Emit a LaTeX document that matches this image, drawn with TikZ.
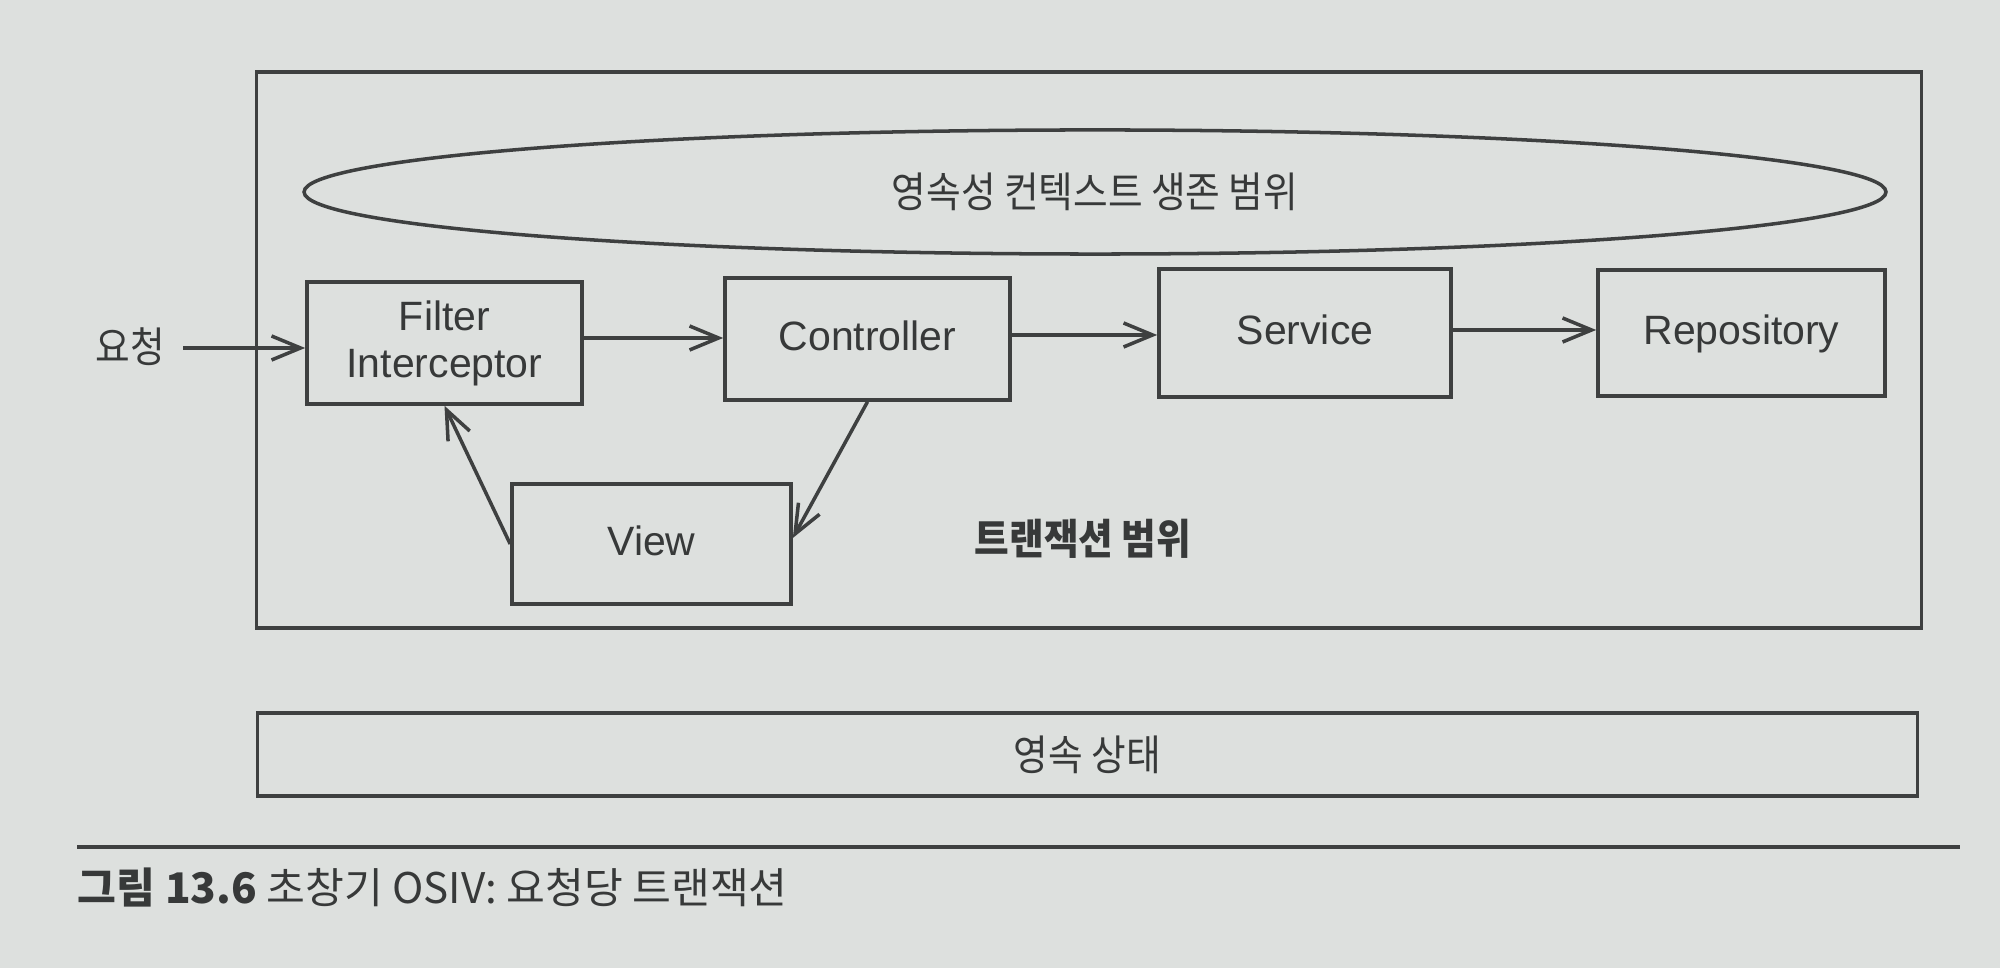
\documentclass[tikz,border=0pt]{standalone}
\usepackage{fontspec}
\setmainfont{Liberation Sans}
\newfontfamily\kr[FakeStretch=0.9]{Noto Sans CJK KR}
\newfontfamily\krcap{Noto Sans CJK KR}
\usetikzlibrary{arrows.meta,shapes.geometric}
\definecolor{paper}{RGB}{221,224,222}
\definecolor{ink}{RGB}{62,64,64}
\definecolor{txt}{RGB}{55,57,57}
\tikzset{
  box/.style={draw=ink, line width=1pt, rectangle, inner sep=0pt, text=txt,
    font=\fontsize{11.65pt}{13.4pt}\selectfont, align=center},
  onetext/.style={text height=0.30cm, text depth=0.07cm},
  krlabel/.style={inner sep=0pt, text=txt, font=\kr\fontsize{11.9pt}{14pt}\selectfont},
  arr/.style={draw=ink, line width=1pt, -{Straight Barb[length=2.9mm,width=2.4mm]}},
  rule/.style={draw=ink, line width=0.9pt}
}
\begin{document}
\begin{tikzpicture}[x=0.01cm,y=-0.01cm]
\fill[paper] (0,0) rectangle (2000,968);
\useasboundingbox (0,0) rectangle (2000,968);

% transaction scope frame
\node[box, minimum width=16.64cm, minimum height=5.56cm] (frame) at (1089,350) {};
% persistence context lifetime
\node[box, ellipse, minimum width=15.81cm, minimum height=1.24cm,
      font=\kr\fontsize{11.9pt}{14pt}\selectfont] (pc) at (1095,192) {영속성 컨텍스트 생존 범위};

% components
\node[box, minimum width=2.75cm, minimum height=1.22cm] (filter) at (444.5,343) {Filter\\Interceptor};
\node[box, onetext, minimum width=2.85cm, minimum height=1.22cm] (ctrl) at (867.5,339) {Controller};
\node[box, onetext, minimum width=2.92cm, minimum height=1.28cm] (svc) at (1305,333) {Service};
\node[box, onetext, minimum width=2.87cm, minimum height=1.26cm] (repo) at (1741.5,333) {Repository};
\node[box, onetext, minimum width=2.79cm, minimum height=1.20cm] (view) at (651.5,544) {View};

\node[krlabel, font=\kr\bfseries\fontsize{11.9pt}{14pt}\selectfont] (txlabel) at (1083,539) {트랜잭션 범위};

% request
\node[krlabel] (req) at (130,347) {요청};

% persistent state
\node[box, minimum width=16.59cm, minimum height=0.83cm,
      font=\kr\fontsize{11.9pt}{14pt}\selectfont] (state) at (1087.5,754.5) {영속 상태};

% connectors
\draw[arr] ([xshift=0.18cm,yshift=-0.01cm]req.east) -- ([yshift=-0.01cm]req.east -| filter.west);
\draw[arr] ([yshift=0.05cm]filter.east) -- ([yshift=0.05cm]filter.east -| ctrl.west);
\draw[arr] ([yshift=0.04cm]ctrl.east) -- ([yshift=0.04cm]ctrl.east -| svc.west);
\draw[arr] ([yshift=0.03cm]svc.east) -- ([yshift=0.03cm]svc.east -| repo.west);
\draw[arr] (ctrl.south) -- ([yshift=0.06cm]view.east);
\draw[arr] (view.west) -- (filter.south);

% caption rule and caption
\coordinate (rl) at (77,847);
\coordinate (rr) at (1960,847);
\draw[rule] (rl) -- (rr);
\node[anchor=west, inner sep=0pt, text=txt, font=\krcap\fontsize{12pt}{14pt}\selectfont] (cap) at (77,888)
  {{\bfseries 그림 13.6} 초창기 OSIV: 요청당 트랜잭션};
\end{tikzpicture}
\end{document}
